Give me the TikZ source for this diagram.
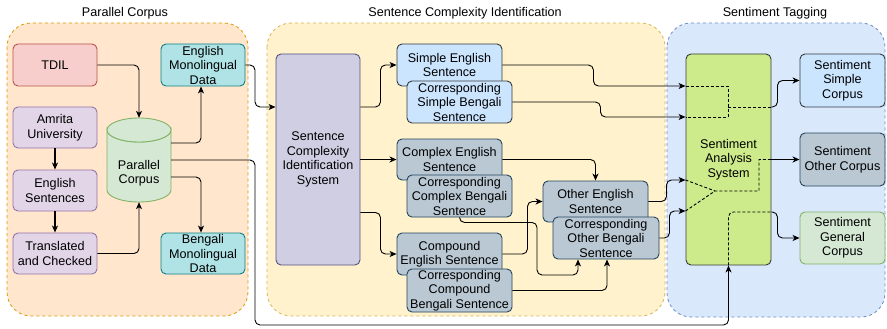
\documentclass[tikz,border=0pt]{standalone}
\usepackage{fontspec}
\setmainfont{Liberation Sans}
\usetikzlibrary{arrows.meta,calc}
\definecolor{grpOrangeF}{HTML}{FFE6CC}\definecolor{grpOrangeD}{HTML}{D79B00}
\definecolor{grpYellowF}{HTML}{FFF2CC}\definecolor{grpYellowD}{HTML}{D6B656}
\definecolor{grpBlueF}{HTML}{DAE8FC}\definecolor{grpBlueD}{HTML}{6C8EBF}
\definecolor{redF}{HTML}{F8CECC}\definecolor{redD}{HTML}{B85450}
\definecolor{purF}{HTML}{E1D5E7}\definecolor{purD}{HTML}{9673A6}
\definecolor{grnF}{HTML}{D5E8D4}\definecolor{grnD}{HTML}{82B366}
\definecolor{tealF}{HTML}{B0E3E6}\definecolor{tealD}{HTML}{0E8088}
\definecolor{lavF}{HTML}{D0CEE2}\definecolor{lavD}{HTML}{56517E}
\definecolor{skyF}{HTML}{CCE5FF}\definecolor{darkD}{HTML}{36393D}
\definecolor{slateF}{HTML}{BAC8D3}\definecolor{slateD}{HTML}{23445D}
\definecolor{limeF}{HTML}{CDEB8B}
\begin{document}
\begin{tikzpicture}[x=1pt,y=-1pt,
  every node/.style={font=\fontsize{12.6}{14.5}\selectfont},
  box/.style={draw, rounded corners=5pt, align=center, inner sep=0pt, line width=0.9pt},
  group/.style={dashed, line width=0.8pt, rounded corners=24pt},
  title/.style={inner sep=0pt},
  conn/.style={line width=0.9pt, rounded corners=5pt, -{Stealth[length=7pt,width=6pt,inset=2pt]}},
  bold/.style={line width=1.7pt},
  inner/.style={line width=0.9pt, dashed, dash pattern=on 3pt off 2pt},
  plain/.style={line width=0.9pt, rounded corners=5pt}]
\useasboundingbox (0,0) rectangle (887,329);

% group panels
\draw[group, fill=grpOrangeF, draw=grpOrangeD] (7,23) rectangle (248,316);
\draw[group, fill=grpYellowF, draw=grpYellowD] (267,23) rectangle (665,316);
\draw[group, fill=grpBlueF, draw=grpBlueD] (667,23) rectangle (885,317);
\node[title] (tpc) at (125,13) {Parallel Corpus};
\node[title] (tsci) at (465,13) {Sentence Complexity Identification};
\node[title] (tst) at (775,13) {Sentiment Tagging};

% parallel corpus sources
\node[box, fill=redF, draw=redD, minimum width=84pt, minimum height=42pt] (tdil) at (55,65) {TDIL};
\node[box, fill=purF, draw=purD, minimum width=84pt, minimum height=41pt] (amrita) at (55,127.5) {Amrita\\University};
\node[box, fill=purF, draw=purD, minimum width=84pt, minimum height=41pt] (engsent) at (55,190.5) {English\\Sentences};
\node[box, fill=purF, draw=purD, minimum width=84pt, minimum height=41pt] (trans) at (55,253.5) {Translated\\and Checked};
\node[box, fill=tealF, draw=tealD, minimum width=84pt, minimum height=42pt] (engmono) at (203,65) {English\\Monolingual\\Data};
\node[box, fill=tealF, draw=tealD, minimum width=84pt, minimum height=41pt] (benmono) at (203,253.5) {Bengali\\Monolingual\\Data};

% parallel corpus cylinder
\draw[fill=grnF, draw=grnD, line width=0.9pt]
  (107,130) arc[start angle=180, end angle=360, x radius=32pt, y radius=12pt]
  -- (171,190) arc[start angle=0, end angle=-180, x radius=32pt, y radius=12pt] -- cycle;
\draw[fill=grnF, draw=grnD, line width=0.9pt] (139,130) ellipse[x radius=32pt, y radius=12pt];
\node[inner sep=0pt, minimum width=64pt, minimum height=84pt] (pc) at (139,160) {};
\node[inner sep=0pt, align=center] (pclabel) at (139,173) {Parallel\\Corpus};

% sentence complexity identification
\node[box, fill=lavF, draw=lavD, minimum width=84pt, minimum height=211pt] (sci) at (318,159.5) {Sentence\\Complexity\\Identification\\System};
\node[box, fill=skyF, draw=darkD, minimum width=105pt, minimum height=42pt] (simeng) at (449.5,65) {Simple English\\Sentence};
\node[box, fill=skyF, draw=darkD, minimum width=105pt, minimum height=42pt] (simben) at (459.5,102) {Corresponding\\Simple Bengali\\Sentence};
\node[box, fill=slateF, draw=slateD, minimum width=105pt, minimum height=41pt] (cxeng) at (449.5,159.5) {Complex English\\Sentence};
\node[box, fill=slateF, draw=slateD, minimum width=105pt, minimum height=42pt] (cxben) at (459.5,196) {Corresponding\\Complex Bengali\\Sentence};
\node[box, fill=slateF, draw=slateD, minimum width=105pt, minimum height=42pt] (cpeng) at (449.5,254) {Compound\\English Sentence};
\node[box, fill=slateF, draw=slateD, minimum width=105pt, minimum height=43pt] (cpben) at (459.5,290.5) {Corresponding\\Compound\\Bengali Sentence};
\node[box, fill=slateF, draw=slateD, minimum width=105pt, minimum height=41pt] (otheng) at (595.5,201.5) {Other English\\Sentence};
\node[box, fill=slateF, draw=slateD, minimum width=106pt, minimum height=42pt] (othben) at (606,238) {Corresponding\\Other Bengali\\Sentence};

% sentiment tagging
\node[box, fill=limeF, draw=darkD, minimum width=85pt, minimum height=211pt] (sa) at (728.5,159.5) {Sentiment\\Analysis\\System};
\node[box, fill=skyF, draw=darkD, minimum width=85pt, minimum height=53pt] (simcorp) at (842.5,80.5) {Sentiment\\Simple\\Corpus};
\node[box, fill=slateF, draw=slateD, minimum width=85pt, minimum height=53pt] (othcorp) at (842.5,159.5) {Sentiment\\Other Corpus};
\node[box, fill=grnF, draw=grnD, minimum width=85pt, minimum height=52pt] (gencorp) at (842.5,238) {Sentiment\\General\\Corpus};

% connectors: parallel corpus
\draw[conn] (tdil.east) -| (pc.north);
\draw[conn, bold] (amrita) -- (engsent);
\draw[conn, bold] (engsent) -- (trans);
\draw[conn] (trans.east) -| (pc.south);
\draw[conn] ([yshift=17pt]pc.east) -| ([xshift=-2pt]engmono.south);
\draw[conn] ([yshift=-17pt]pc.east) -| ([xshift=-2pt]benmono.north);
\coordinate (lowbend) at (255,325);
\draw[conn] (pc.east) -| (lowbend) -| (sa.south);
\draw[conn] (engmono.east) -| (255,107) -- ([yshift=52.5pt]sci.west);

% connectors: complexity split
\draw[conn] ([yshift=52.5pt]sci.east) -- ++(20,0) |- (simeng.west);
\draw[conn, bold] (sci.east) -- (cxeng.west);
\draw[conn] ([yshift=-53pt]sci.east) -- ++(20,0) |- (cpeng.west);

% connectors: towards sentiment analysis
\draw[conn] (simeng.east) -- ++(91,0) |- ([yshift=73.5pt]sa.west);
\draw[conn] (simben.east) -- ++(88,0) |- ([yshift=42.5pt]sa.west);
\draw[conn] (cxeng.east) -| (otheng.north);
\draw[conn] (cxben.south) -- ++(0,5) -| (537,275) -| ([xshift=-28pt]othben.south);
\draw[conn] (cpeng.east) -- ++(25,0) |- (otheng.west);
\draw[conn] (cpben.east) -| ([xshift=1pt]othben.south);
\draw[conn] (otheng.east) -- ++(18,0) |- ([yshift=-20.5pt]sa.west);
\draw[conn] (othben.east) -- ++(10,0) |- ([yshift=-51.5pt]sa.west);

% routing inside the sentiment analysis system
\draw[inner] ([yshift=73.5pt]sa.west) -| (728,117) -- ([yshift=42.5pt]sa.west);
\draw[inner] (728,107) -- ([yshift=52.5pt]sa.east);
\draw[conn] ([yshift=52.5pt]sa.east) -- ++(6,0) |- (simcorp.west);
\draw[inner] ([yshift=-20.5pt]sa.west) -- (715,191);
\draw[inner] ([yshift=-51.5pt]sa.west) -- (715,191) -- (759,191) -- (759,159.5) -- (sa.east);
\draw[conn, bold] (sa.east) -- (othcorp.west);
\draw[inner, rounded corners=5pt] (sa.south) -- (728.5,212) -- ([yshift=-52.5pt]sa.east);
\draw[conn] ([yshift=-52.5pt]sa.east) -- ++(6,0) |- (gencorp.west);
\end{tikzpicture}
\end{document}
